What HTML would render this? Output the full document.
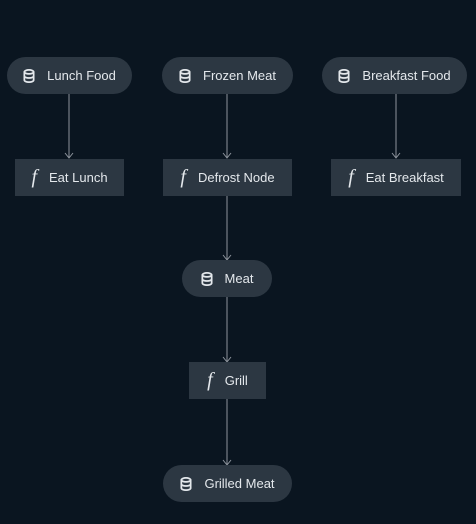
<!DOCTYPE html>
<html><head><style>
body{margin:0;width:476px;height:524px;background:#0a1520;overflow:hidden;font-family:"Liberation Sans",sans-serif;}
.n{position:absolute;background:#2c3742;color:#e4e8ec;font-size:13px;display:flex;align-items:center;justify-content:center;box-sizing:border-box;}
.p{border-radius:19px;}
.f{font-family:"Liberation Serif",serif;font-style:italic;font-size:20px;margin-right:12px;}
svg.bg{position:absolute;left:0;top:0;}
.i{position:relative;margin-right:12px;}
</style></head><body>
<svg class="bg" width="476" height="524">
<defs><symbol id="db" viewBox="0 0 10 12"><g fill="none" stroke="#e4e8ec" stroke-width="1.5"><ellipse cx="5" cy="2.5" rx="4" ry="1.7"/><path d="M1 2.5v7c0 1 1.8 1.7 4 1.7s4-.7 4-1.7v-7M1 6c0 1 1.8 1.7 4 1.7S9 7 9 6"/></g></symbol></defs>
<g stroke="#8d949c" stroke-width="1" fill="none">
<path d="M69 94V158M65 153l4 5 4-5"/>
<path d="M227 94V158M223 153l4 5 4-5"/>
<path d="M396 94V158M392 153l4 5 4-5"/>
<path d="M227 196V260M223 255l4 5 4-5"/>
<path d="M227 297V362M223 357l4 5 4-5"/>
<path d="M227 399V465M223 460l4 5 4-5"/>
</g>
</svg>
<div class="n p" style="left:7px;top:57px;width:125px;height:37px"><svg class="i" width="12" height="14" viewBox="0 0 10 12"><use href="#db"/></svg>Lunch Food</div>
<div class="n p" style="left:162px;top:57px;width:131px;height:37px"><svg class="i" width="12" height="14" viewBox="0 0 10 12"><use href="#db"/></svg>Frozen Meat</div>
<div class="n p" style="left:322px;top:57px;width:145px;height:37px"><svg class="i" width="12" height="14" viewBox="0 0 10 12"><use href="#db"/></svg>Breakfast Food</div>
<div class="n" style="left:15px;top:159px;width:109px;height:37px"><span class="f">f</span>Eat Lunch</div>
<div class="n" style="left:163px;top:159px;width:129px;height:37px"><span class="f">f</span>Defrost Node</div>
<div class="n" style="left:331px;top:159px;width:130px;height:37px"><span class="f">f</span>Eat Breakfast</div>
<div class="n p" style="left:182px;top:260px;width:90px;height:37px"><svg class="i" width="12" height="14" viewBox="0 0 10 12"><use href="#db"/></svg>Meat</div>
<div class="n" style="left:189px;top:362px;width:77px;height:37px"><span class="f">f</span>Grill</div>
<div class="n p" style="left:163px;top:465px;width:129px;height:37px"><svg class="i" width="12" height="14" viewBox="0 0 10 12"><use href="#db"/></svg>Grilled Meat</div>
</body></html>
